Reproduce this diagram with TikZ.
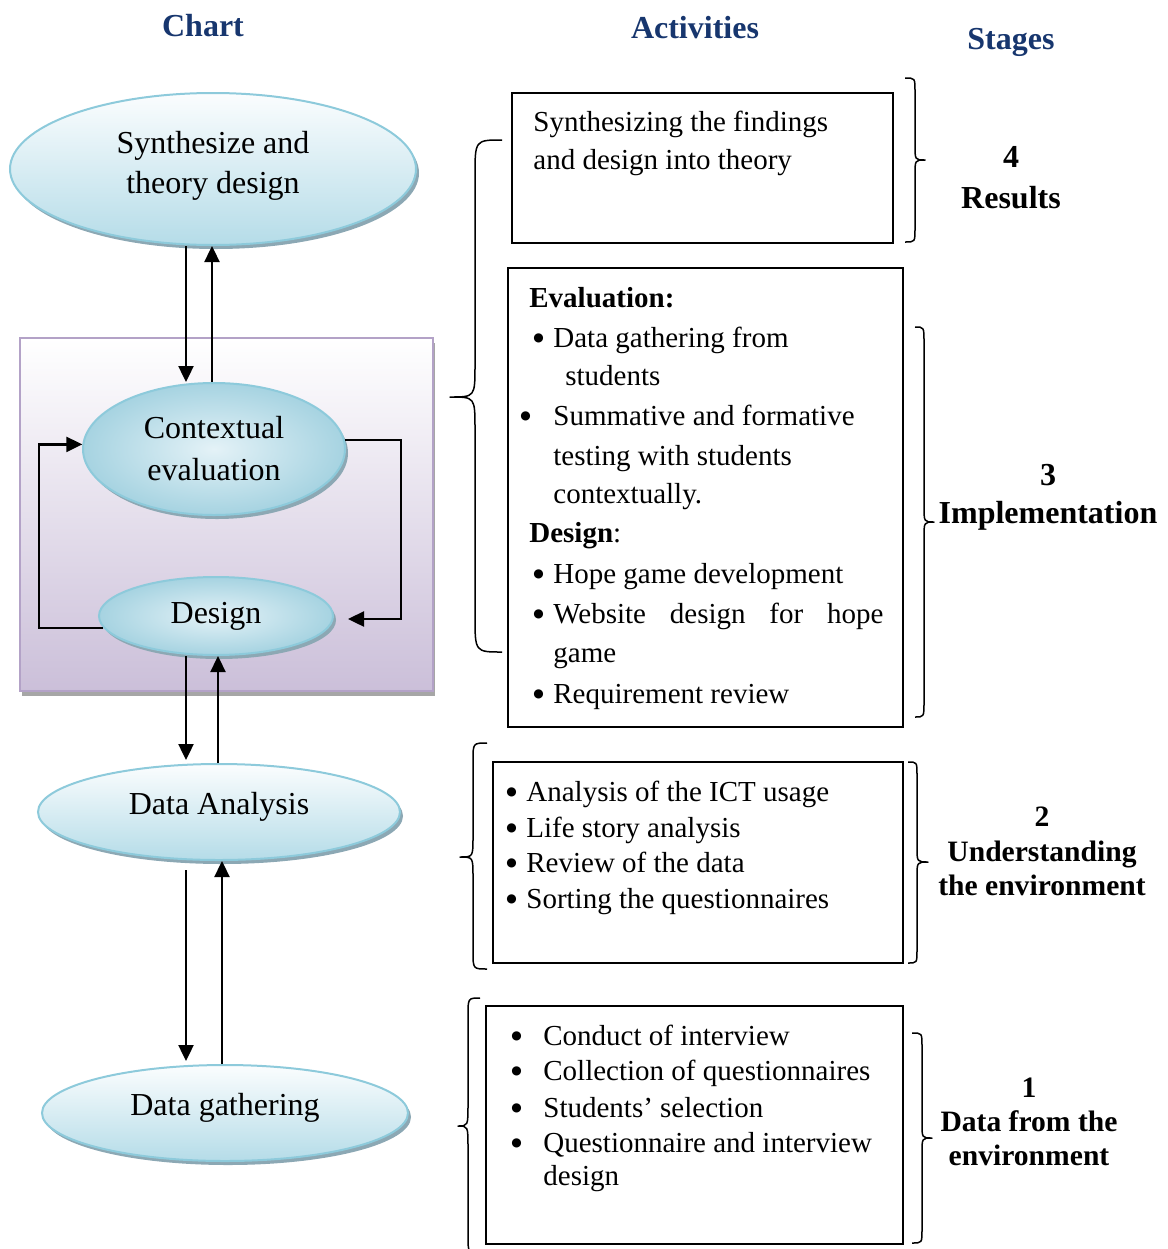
\documentclass[tikz,border=0pt]{standalone}
\usepackage{fontspec}
\setmainfont{Liberation Serif}
\newfontfamily\dotfont{DejaVu Sans}
\usetikzlibrary{shapes.geometric,arrows.meta,shadows}

\definecolor{hdrblue}{RGB}{23,54,110}
\definecolor{ovalrim}{RGB}{141,202,219}
\definecolor{ovaltop}{RGB}{251,253,254}
\definecolor{ovalbot}{RGB}{181,220,232}
\definecolor{ovalin}{RGB}{228,242,247}
\definecolor{ovalout}{RGB}{166,211,225}
\definecolor{ovalshadow}{RGB}{140,168,180}
\definecolor{lilacrim}{RGB}{179,162,199}
\definecolor{lilacbot}{RGB}{203,191,217}
\definecolor{panelshadow}{RGB}{166,166,166}

% curly brace: end x, spine x, tip x, top y, tip y, bottom y, end curl, tip curl
\newcommand\curlybrace[8]{%
  \draw[bracestyle] (#1,#4) .. controls (#2,#4) .. (#2,#4+#7)
    -- (#2,#5-#8) .. controls (#2,#5) .. (#3,#5)
    .. controls (#2,#5) .. (#2,#5+#8)
    -- (#2,#6-#7) .. controls (#2,#6) .. (#1,#6);}

% list bullet: a small solid disc
\newcommand\bigdot{\raisebox{2.9pt}{\dotfont\fontsize{6}{6}\selectfont ●}}

\tikzset{
  hdr/.style={anchor=base, inner sep=0pt, text=hdrblue,
    font=\fontsize{16}{19}\selectfont\bfseries},
  stg/.style={anchor=base, inner sep=0pt,
    font=\fontsize{16}{19}\selectfont\bfseries},
  stgsmall/.style={stg, font=\fontsize{14.8}{18}\selectfont\bfseries},
  txt/.style={anchor=base west, inner sep=0pt,
    font=\fontsize{14.5}{18}\selectfont},
  actbox/.style={rectangle, draw=black, line width=1pt, inner sep=0pt},
  panel/.style={rectangle, draw=lilacrim, line width=1pt, inner sep=0pt,
    top color=white, bottom color=lilacbot,
    drop shadow={shadow xshift=1pt, shadow yshift=-2.5pt,
      fill=panelshadow, opacity=1}},
  oval/.style={ellipse, draw=ovalrim, line width=1pt, inner sep=0pt,
    align=center, font=\fontsize{16}{20}\selectfont,
    drop shadow={shadow xshift=1.5pt, shadow yshift=-2pt,
      fill=ovalshadow, opacity=1}},
  ovallin/.style={oval, top color=ovaltop, bottom color=ovalbot},
  ovalrad/.style={oval, inner color=ovalin, outer color=ovalout},
  arr/.style={line width=1.2pt, -{Triangle[length=8pt,width=7.5pt]}},
  bracestyle/.style={line width=0.75pt, line join=round}
}

\begin{document}
\begin{tikzpicture}[x=0.5pt,y=-0.5pt]
\useasboundingbox (0,0) rectangle (1168,1249);

% column headers
\node[hdr] (hchart) at (203,36) {Chart};
\node[hdr] (hact) at (695,38) {Activities};
\node[hdr] (hstage) at (1011,49) {Stages};

% iteration panel behind evaluation/design
\node[panel, minimum width=206.5pt, minimum height=176.5pt] (cycle) at (226.5,514.5) {};

% chart ovals
\node[ovallin, minimum width=203pt, minimum height=76pt, text depth=7pt] (syn) at (213,169) {Synthesize and\\theory design};
\node[ovalrad, minimum width=131pt, minimum height=66pt, font=\fontsize{16}{21}\selectfont] (ctx) at (214,449) {Contextual\\evaluation};
\node[ovalrad, minimum width=117pt, minimum height=39pt] (dsg) at (216,616) {Design};
\node[ovallin, minimum width=181pt, minimum height=48pt, text depth=9pt] (da) at (219,812) {Data Analysis};
\node[ovallin, minimum width=183pt, minimum height=48pt, text depth=9pt] (dg) at (225,1113) {Data gathering};

% connector columns
\coordinate (cA) at (186,0);
\coordinate (cB) at (212,0);
\coordinate (cC) at (218,0);
\coordinate (cD) at (222,0);
\coordinate (rx) at (401,0);
\coordinate (lx) at (39,0);

\draw[arr] (syn.south -| cA) -- (ctx.north -| cA);
\draw[arr] (ctx.north -| cB) -- (syn.south -| cB);
\draw[arr] (ctx.4) -- (ctx.4 -| rx) |- ([xshift=7pt,yshift=-1.5pt]dsg.east);
\draw[arr] (dsg.186) -- (dsg.186 -| lx) |- (ctx.178);
\draw[arr, shorten >=1.5pt] (dsg.south -| cA) -- (da.north -| cA);
\draw[arr] (da.north -| cC) -- (dsg.south -| cC);
\draw[arr, shorten <=4.5pt, shorten >=1.5pt] (da.south -| cA) -- (dg.north -| cA);
\draw[arr] (dg.north -| cD) -- (da.south -| cD);

% activity boxes
\node[actbox, minimum width=190.5pt, minimum height=75pt] (b4) at (702.5,168) {};
\node[actbox, minimum width=197.5pt, minimum height=229.5pt] (b3) at (705.5,497.5) {};
\node[actbox, minimum width=205pt, minimum height=100.5pt] (b2) at (698,862.5) {};
\node[actbox, minimum width=208.5pt, minimum height=119pt] (b1) at (694.5,1125) {};

% results box
\node[txt] (t4a) at (533,131) {Synthesizing the findings};
\node[txt] (t4b) at (533,169) {and design into theory};

% implementation box
\node[txt] (t3h1) at (529,307) {\textbf{Evaluation:}};
\node[txt] (t3d1) at (533,347) {\bigdot};
\node[txt] (t3l1) at (553,347) {Data gathering from};
\node[txt] (t3l2) at (565,385) {students};
\node[txt] (t3d2) at (520,425) {\bigdot};
\node[txt] (t3l3) at (553,425) {Summative and formative};
\node[txt] (t3l4) at (553,465) {testing with students};
\node[txt] (t3l5) at (553,503) {contextually.};
\node[txt] (t3h2) at (529,542) {\textbf{Design}:};
\node[txt] (t3d3) at (533,583) {\bigdot};
\node[txt] (t3l6) at (553,583) {Hope game development};
\node[txt] (t3d4) at (533,623) {\bigdot};
\node[txt] (t3l7) at (553,623) {\makebox[165pt][s]{Website design for hope}};
\node[txt] (t3l8) at (553,662) {game};
\node[txt] (t3d5) at (533,703) {\bigdot};
\node[txt] (t3l9) at (553,703) {Requirement review};

% understanding box
\foreach \y/\t [count=\i] in {801/Analysis of the ICT usage, 837/Life story analysis,
    872/Review of the data, 908/Sorting the questionnaires}{
  \node[txt] (t2d\i) at (506,\y) {\bigdot};
  \node[txt] (t2l\i) at (526,\y) {\t};
}

% data box
\foreach \y/\t [count=\i] in {1045/Conduct of interview, 1080/Collection of questionnaires,
    1117/Students’ selection, 1152/Questionnaire and interview}{
  \node[txt] (t1d\i) at (511,\y) {\bigdot};
  \node[txt] (t1l\i) at (543,\y) {\t};
}
\node[txt] (t1l5) at (543,1185) {design};

% braces
\curlybrace{502}{475}{450}{140}{397}{652}{36}{32}
\curlybrace{487}{473}{460}{743}{857}{969}{18}{20}
\curlybrace{480}{468}{458}{998}{1126}{1253}{18}{22}
\curlybrace{905}{915}{925}{78}{160}{242}{13}{15}
\curlybrace{915}{924}{934}{327}{522}{717}{15}{16}
\curlybrace{908}{917}{928}{762}{862}{963}{13}{15}
\curlybrace{912}{922}{932}{1033}{1138}{1243}{13}{15}

% stage labels
\node[stg] (s4n) at (1011,167) {4};
\node[stg] (s4t) at (1011,208) {Results};
\node[stg] (s3n) at (1048,485) {3};
\node[stg] (s3t) at (1048,523) {Implementation};
\node[stgsmall] (s2n) at (1042,826) {2};
\node[stgsmall] (s2a) at (1042,861) {Understanding};
\node[stgsmall] (s2b) at (1042,895) {the environment};
\node[stgsmall] (s1n) at (1029,1097) {1};
\node[stgsmall] (s1a) at (1029,1131) {Data from the};
\node[stgsmall] (s1b) at (1029,1165) {environment};
\end{tikzpicture}
\end{document}
